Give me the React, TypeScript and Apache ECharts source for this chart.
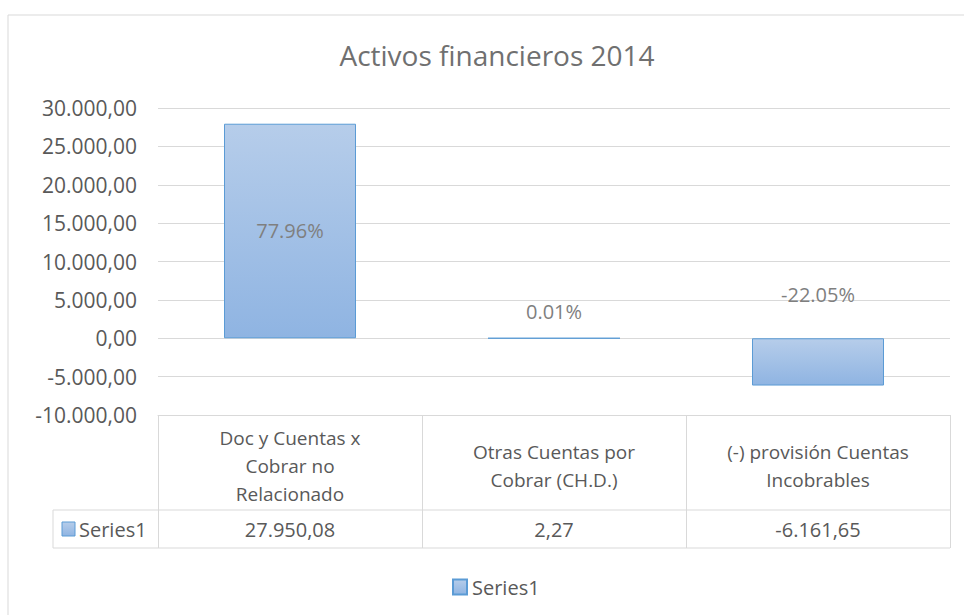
import React, { useEffect, useRef } from 'react';
import * as echarts from 'echarts';

const title = 'Activos financieros 2014';
const seriesName = 'Series1';
const categories = [
  'Doc y Cuentas x\nCobrar no\nRelacionado',
  'Otras Cuentas por\nCobrar (CH.D.)',
  '(-) provisión Cuentas\nIncobrables',
];
const values = [27950.08, 2.27, -6161.65];
const percentLabels = ['77.96%', '0.01%', '-22.05%'];
const yMin = -10000;
const yMax = 30000;
const yInterval = 5000;

const FONT = '"Open Sans", "Noto Sans", sans-serif';
const AXIS_COLOR = '#595959';
const LINE_COLOR = '#d9d9d9';

function fmt(v: number): string {
  const s = Math.abs(v).toFixed(2);
  const [i, d] = s.split('.');
  const g = i.replace(/\B(?=(\d{3})+(?!\d))/g, '.');
  return (v < 0 ? '-' : '') + g + ',' + d;
}

const barFill = () =>
  new echarts.graphic.LinearGradient(0, 0, 0, 1, [
    { offset: 0, color: '#b6cdea' },
    { offset: 1, color: '#8fb4e2' },
  ]);

// layout (pixels)
const GRID_LEFT = 158;
const GRID_RIGHT_X = 950;
const GRID_TOP = 108;
const GRID_BOTTOM_Y = 415;
const HEADER_BOTTOM_Y = 510;
const TABLE_BOTTOM_Y = 548;
const ROW_LABEL_LEFT = 53;

export default function App() {
  const ref = useRef<HTMLDivElement>(null);
  useEffect(() => {
    if (!ref.current) return;
    const chart = echarts.init(ref.current, undefined, { renderer: 'svg' });
    const labelPos: any[] = [
      { position: 'inside' },
      { position: 'top', distance: 16 },
      { position: 'top', distance: 34 },
    ];
    chart.setOption({
      animation: false,
      backgroundColor: '#ffffff',
      title: {
        text: title,
        left: 492,
        textAlign: 'center',
        top: 36,
        textStyle: { fontFamily: FONT, fontSize: 28, fontWeight: 'normal', color: '#707070' },
      },
      legend: {
        data: [{ name: seriesName, icon: 'rect' }],
        left: 447,
        top: 572,
        itemWidth: 14,
        itemHeight: 15,
        itemGap: 6,
        textStyle: { fontFamily: FONT, fontSize: 20, color: AXIS_COLOR },
      },
      grid: {
        left: GRID_LEFT,
        right: 964 - GRID_RIGHT_X,
        top: GRID_TOP,
        bottom: 615 - GRID_BOTTOM_Y,
        containLabel: false,
      },
      xAxis: [
        {
          type: 'category',
          data: categories,
          position: 'bottom',
          axisLine: { onZero: false, lineStyle: { color: LINE_COLOR, width: 1 } },
          axisTick: {
            show: true,
            alignWithLabel: false,
            length: TABLE_BOTTOM_Y - GRID_BOTTOM_Y,
            lineStyle: { color: LINE_COLOR, width: 1 },
          },
          axisLabel: {
            interval: 0,
            margin: 51,
            verticalAlign: 'middle',
            lineHeight: 28,
            fontFamily: FONT,
            fontSize: 19,
            color: AXIS_COLOR,
          },
        },
        {
          type: 'category',
          data: values.map(fmt),
          position: 'bottom',
          offset: 114,
          axisLine: { show: false },
          axisTick: { show: false },
          axisLabel: {
            interval: 0,
            margin: 0,
            verticalAlign: 'middle',
            fontFamily: FONT,
            fontSize: 20,
            color: AXIS_COLOR,
          },
        },
      ],
      yAxis: {
        type: 'value',
        min: yMin,
        max: yMax,
        interval: yInterval,
        axisLine: { show: false },
        axisTick: { show: false },
        splitLine: { lineStyle: { color: LINE_COLOR, width: 1 } },
        axisLabel: {
          margin: 21,
          fontFamily: FONT,
          fontSize: 21,
          color: AXIS_COLOR,
          formatter: (v: number) => fmt(v),
        },
      },
      series: [
        {
          name: seriesName,
          type: 'bar',
          xAxisIndex: 0,
          barWidth: '50%',
          itemStyle: { color: barFill(), borderColor: '#5b9bd5', borderWidth: 1 },
          label: {
            show: true,
            fontFamily: FONT,
            fontSize: 20,
            color: '#7f7f7f',
          },
          data: values.map((v, i) => ({
            value: v,
            label: { ...labelPos[i], formatter: percentLabels[i] },
          })),
        },
      ],
      graphic: [
        {
          type: 'rect',
          shape: { x: 8, y: 15, width: 1200, height: 900 },
          style: { fill: 'none', stroke: LINE_COLOR, lineWidth: 1 },
          silent: true,
        },
        {
          type: 'line',
          shape: { x1: ROW_LABEL_LEFT, y1: HEADER_BOTTOM_Y, x2: GRID_RIGHT_X, y2: HEADER_BOTTOM_Y },
          style: { stroke: LINE_COLOR, lineWidth: 1 },
        },
        {
          type: 'line',
          shape: { x1: ROW_LABEL_LEFT, y1: TABLE_BOTTOM_Y, x2: GRID_RIGHT_X, y2: TABLE_BOTTOM_Y },
          style: { stroke: LINE_COLOR, lineWidth: 1 },
        },
        {
          type: 'line',
          shape: { x1: ROW_LABEL_LEFT, y1: HEADER_BOTTOM_Y, x2: ROW_LABEL_LEFT, y2: TABLE_BOTTOM_Y },
          style: { stroke: LINE_COLOR, lineWidth: 1 },
        },
        {
          type: 'rect',
          shape: { x: 62, y: 522, width: 13, height: 14 },
          style: { fill: barFill(), stroke: '#5b9bd5', lineWidth: 1 },
        },
        {
          type: 'text',
          x: 79,
          y: 529,
          style: {
            text: seriesName,
            fontFamily: FONT,
            fontSize: 20,
            fill: AXIS_COLOR,
            verticalAlign: 'middle',
          },
        },
      ],
    });
    return () => chart.dispose();
  }, []);
  return (
    <div
      ref={ref}
      style={{ position: 'fixed', left: 0, top: 0, width: 964, height: 615, background: '#fff' }}
    />
  );
}
